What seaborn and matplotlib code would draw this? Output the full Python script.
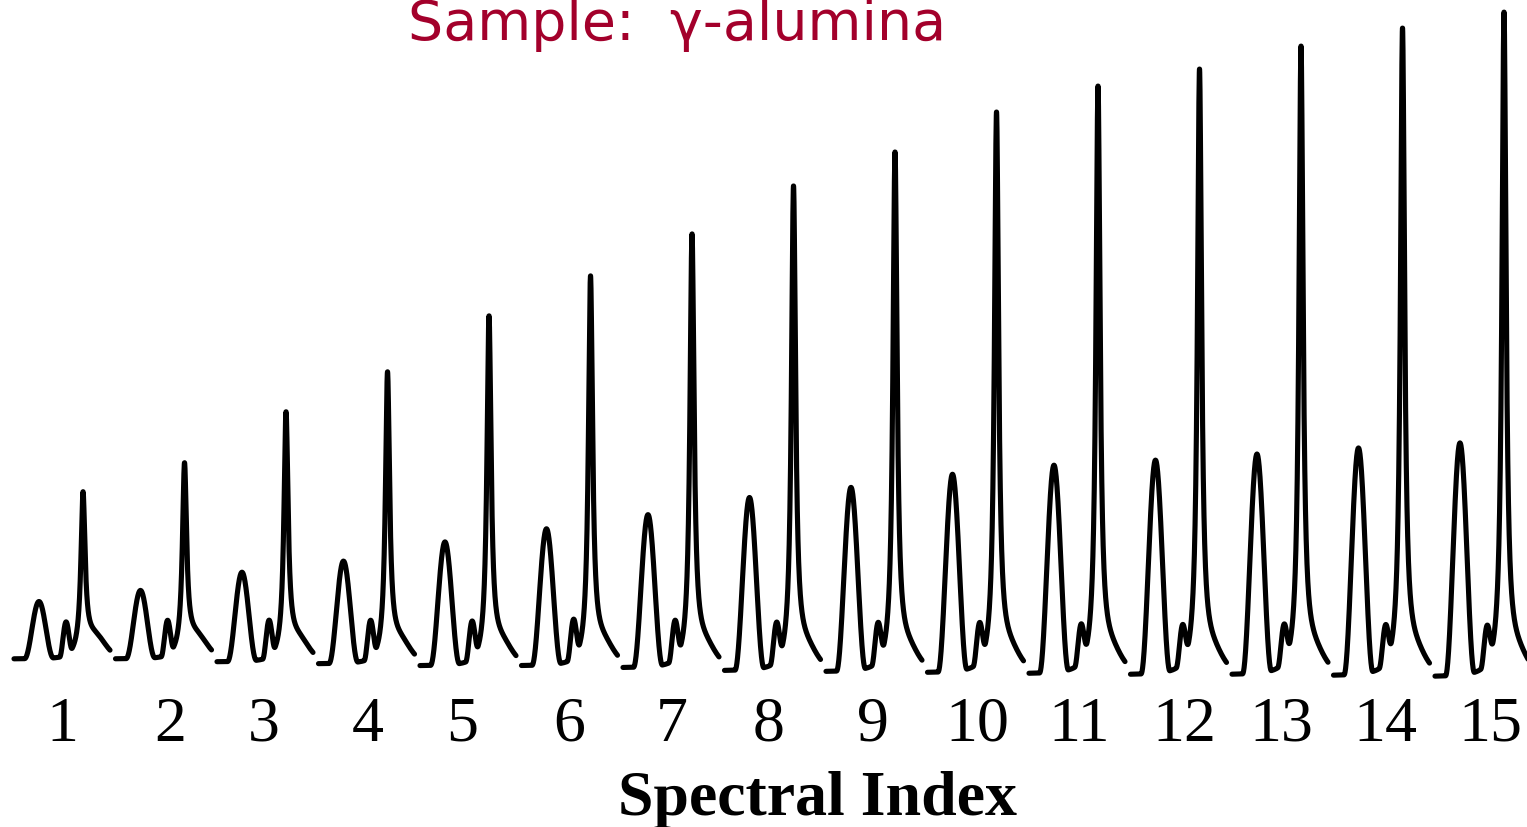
import numpy as np
import pandas as pd
import matplotlib
matplotlib.use("Agg")
import matplotlib.pyplot as plt
import seaborn as sns

# Spectra indices and band amplitudes (intensity units above each baseline)
spectral_index = [1, 2, 3, 4, 5, 6, 7, 8, 9, 10, 11, 12, 13, 14, 15]
band_a = [57, 68, 89, 102, 123, 136, 152, 172, 183, 197, 207, 213, 219, 226, 232]
band_b = [33, 34, 36, 37, 37, 38, 38, 38, 38, 38, 37, 37, 37, 37, 37]
band_c = [154, 183, 237, 279, 337, 377, 421, 472, 507, 548, 575, 593, 616, 635, 652]
shoulder = [22, 22, 22, 22, 22, 22, 22, 22, 22, 22, 22, 22, 22, 22, 22]
baseline = [25, 25, 22, 20, 18, 18, 16, 13, 12, 11, 10, 9, 9, 8, 7]
tick_labels = [str(i) for i in spectral_index]
tick_positions = [1.0, 2.064, 2.99, 4.01, 4.946, 6.0, 7.005, 7.96, 8.985,
                  10.02, 11.025, 12.06, 13.015, 14.04, 15.07]

# Band positions / widths relative to each spectrum's centre (index units)
SPAN = 0.473
POS_A, WID_A = -0.227, 0.142
POS_B, WID_B = 0.039, 0.062
POS_C, WID_C = 0.207, 0.0246
POS_D, WID_D = 0.315, 0.108


def hann(u, c, half):
    z = np.clip((u - c) / half, -1, 1)
    return np.cos(np.pi * z / 2) ** 2


def lorentz(u, c, g):
    return g ** 2 / ((u - c) ** 2 + g ** 2)


def gauss(u, c, s):
    return np.exp(-0.5 * ((u - c) / s) ** 2)


u = np.linspace(-SPAN, SPAN, 700)
frames = []
for k, a, b, c, d, b0 in zip(spectral_index, band_a, band_b, band_c, shoulder, baseline):
    y = (b0 + a * hann(u, POS_A, WID_A) + b * hann(u, POS_B, WID_B)
         + c * lorentz(u, POS_C, WID_C) + d * gauss(u, POS_D, WID_D))
    frames.append(pd.DataFrame({"x": k + u, "intensity": y, "spectrum": k}))
df = pd.concat(frames, ignore_index=True)

sns.set_style("white")
plt.rcParams.update({"text.color": "black", "xtick.color": "black",
                     "axes.labelcolor": "black"})
W, H = 1527, 828
fig = plt.figure(figsize=(W / 100, H / 100), dpi=100)
ax_bottom_px = 685
ax = fig.add_axes([0, 1 - ax_bottom_px / H, 1, ax_bottom_px / H])

sns.lineplot(data=df, x="x", y="intensity", units="spectrum", estimator=None,
             color="black", linewidth=3.7, sort=False, ax=ax, legend=False)
for line in ax.get_lines():
    line.set_solid_capstyle("round")
    line.set_solid_joinstyle("round")

ax.set_xlim(1 - 62 / 101.5, 1 + (W - 62) / 101.5)
ax.set_ylim(0, ax_bottom_px)
ax.set_yticks([])
ax.set_xticks(tick_positions)
ax.set_xticklabels(tick_labels, fontsize=46, family="Liberation Serif",
                   color="black")
ax.tick_params(axis="x", length=0, pad=8.6)
sns.despine(ax=ax, left=True, bottom=True)
ax.set_ylabel("")
ax.set_xlabel("Spectral Index", fontsize=46, family="Liberation Serif",
              fontweight="bold", color="black")
ax.xaxis.set_label_coords(817.5 / W, (ax_bottom_px - 815) / ax_bottom_px)
ax.xaxis.label.set_va("baseline")

fig.text(677.5 / W, 1 - 40 / H, "Sample:  \u03b3-alumina", ha="center",
         va="baseline", fontsize=40, color="#A3002B", family="DejaVu Sans")

fig.savefig("out.png", dpi=100, facecolor="white")
